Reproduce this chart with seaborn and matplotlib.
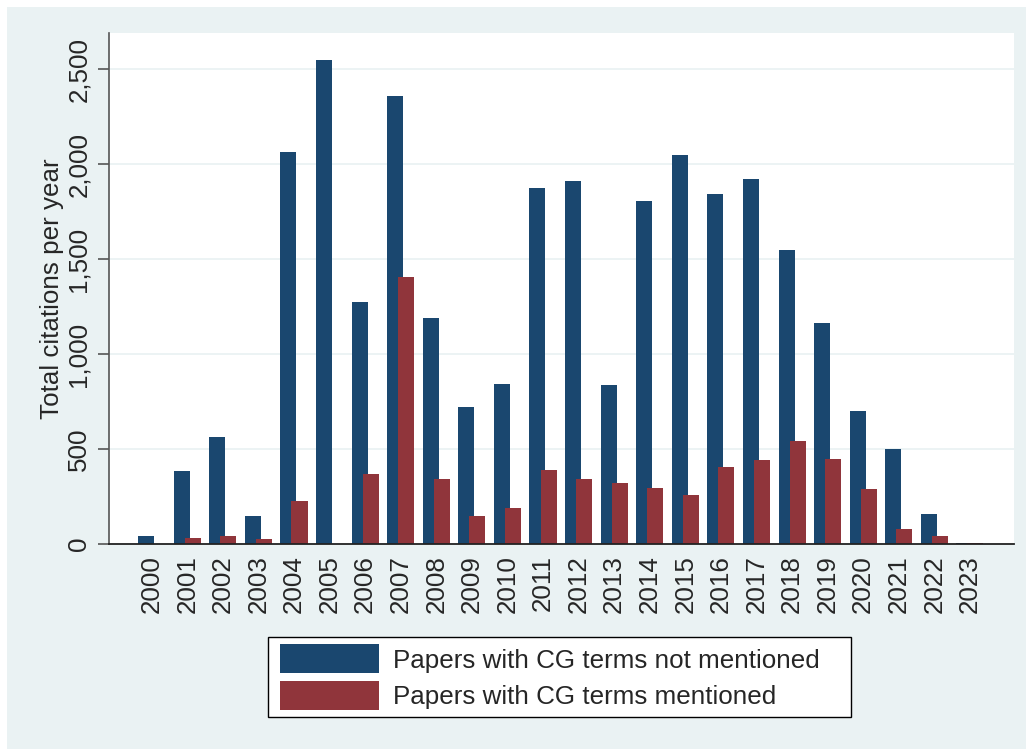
import matplotlib
matplotlib.use("Agg")
import matplotlib.pyplot as plt
import matplotlib.patches as mpatches
import matplotlib.ticker as mticker
from matplotlib.legend_handler import HandlerPatch
import seaborn as sns
import pandas as pd

years = [str(y) for y in range(2000, 2024)]
not_mentioned = [44, 382, 565, 148, 2065, 2549, 1275, 2359, 1191, 723, 844, 1875,
                 1912, 839, 1807, 2049, 1845, 1924, 1549, 1161, 702, 502, 160, 5]
mentioned = [0, 33, 40, 28, 227, 0, 371, 1408, 343, 146, 192, 391,
             343, 319, 296, 259, 407, 440, 544, 449, 291, 79, 42, 3]
series_labels = ["Papers with CG terms not mentioned", "Papers with CG terms mentioned"]
y_ticks = [0, 500, 1000, 1500, 2000, 2500]

NAVY = "#1A476F"
MAROON = "#90353B"
REGION = "#EAF2F3"
FS = 18.7

sns.set_style("white")
plt.rcParams["font.family"] = ["Liberation Sans", "DejaVu Sans"]

df = pd.DataFrame({
    "year": years * 2,
    "citations": not_mentioned + mentioned,
    "group": [series_labels[0]] * len(years) + [series_labels[1]] * len(years),
})

W, H = 1026, 749
fig = plt.figure(figsize=(W / 100, H / 100), dpi=100, facecolor="white")
# graph region background
bg = mpatches.Rectangle((7 / W, 0), 1 - 7 / W, 1 - 7 / H,
                        transform=fig.transFigure, facecolor=REGION,
                        edgecolor="none", zorder=-10)
fig.add_artist(bg)
ax = fig.add_axes([109 / W, 1 - 544 / H, (1014 - 109) / W, (544 - 33) / H])
ax.set_zorder(1)
ax.set_facecolor("white")

sns.barplot(data=df, x="year", y="citations", hue="group", hue_order=series_labels,
            palette=[NAVY, MAROON], saturation=1, width=0.8, ax=ax, errorbar=None)

# overlapping paired bars
bar_w = 0.45
offsets = [-0.155, 0.155]
for cont, off in zip(ax.containers, offsets):
    for i, bar in enumerate(cont):
        bar.set_width(bar_w)
        bar.set_x(i + off - bar_w / 2)
        bar.set_edgecolor("none")
        bar.set_linewidth(0)

ax.set_xlim(-1.2, len(years) - 1 + 1.24)
ax.set_ylim(0, 2690)
ax.set_yticks(y_ticks)
ax.yaxis.set_major_formatter(mticker.FuncFormatter(lambda v, p: f"{int(v):,}"))
ax.yaxis.grid(True, color=REGION, linewidth=1.3)
ax.set_axisbelow(True)

for s in ["top", "right"]:
    ax.spines[s].set_visible(False)
ax.spines["left"].set_color("#555555")
ax.spines["left"].set_linewidth(1.2)
ax.spines["bottom"].set_color("#222222")
ax.spines["bottom"].set_linewidth(1.3)

ax.tick_params(axis="y", length=8, width=1.2, color="#555555", pad=5,
               labelsize=FS, labelrotation=90, left=True)
for lab in ax.get_yticklabels():
    lab.set_va("center")
ax.tick_params(axis="x", length=0, pad=8, labelsize=FS, labelrotation=90)

ax.set_xlabel("")
ax.set_ylabel("Total citations per year", fontsize=FS, labelpad=2)


# legend swatches inset a little from the frame edge
def inset_swatch(legend, orig_handle, xdescent, ydescent, width, height, fontsize):
    return mpatches.Rectangle((-xdescent + 4.7 * 72 / 100, -ydescent), width, height)


handles = [mpatches.Patch(facecolor=c[0].get_facecolor(), edgecolor="none", label=lab)
           for c, lab in zip(ax.containers, series_labels)]
leg = ax.legend(handles=handles, loc="upper left", mode="expand",
                bbox_to_anchor=(268 / W, 1 - 717 / H, (851 - 268) / W, 80 / H),
                bbox_transform=fig.transFigure, fontsize=FS, frameon=True,
                fancybox=False, edgecolor="black", framealpha=1,
                handlelength=3.8, handleheight=1.35, handletextpad=0.73,
                labelspacing=0.29, borderpad=0.28, borderaxespad=0,
                handler_map={mpatches.Patch: HandlerPatch(patch_func=inset_swatch)})
leg.get_frame().set_linewidth(1.0)

fig.savefig("out.png", dpi=100, facecolor="white")
